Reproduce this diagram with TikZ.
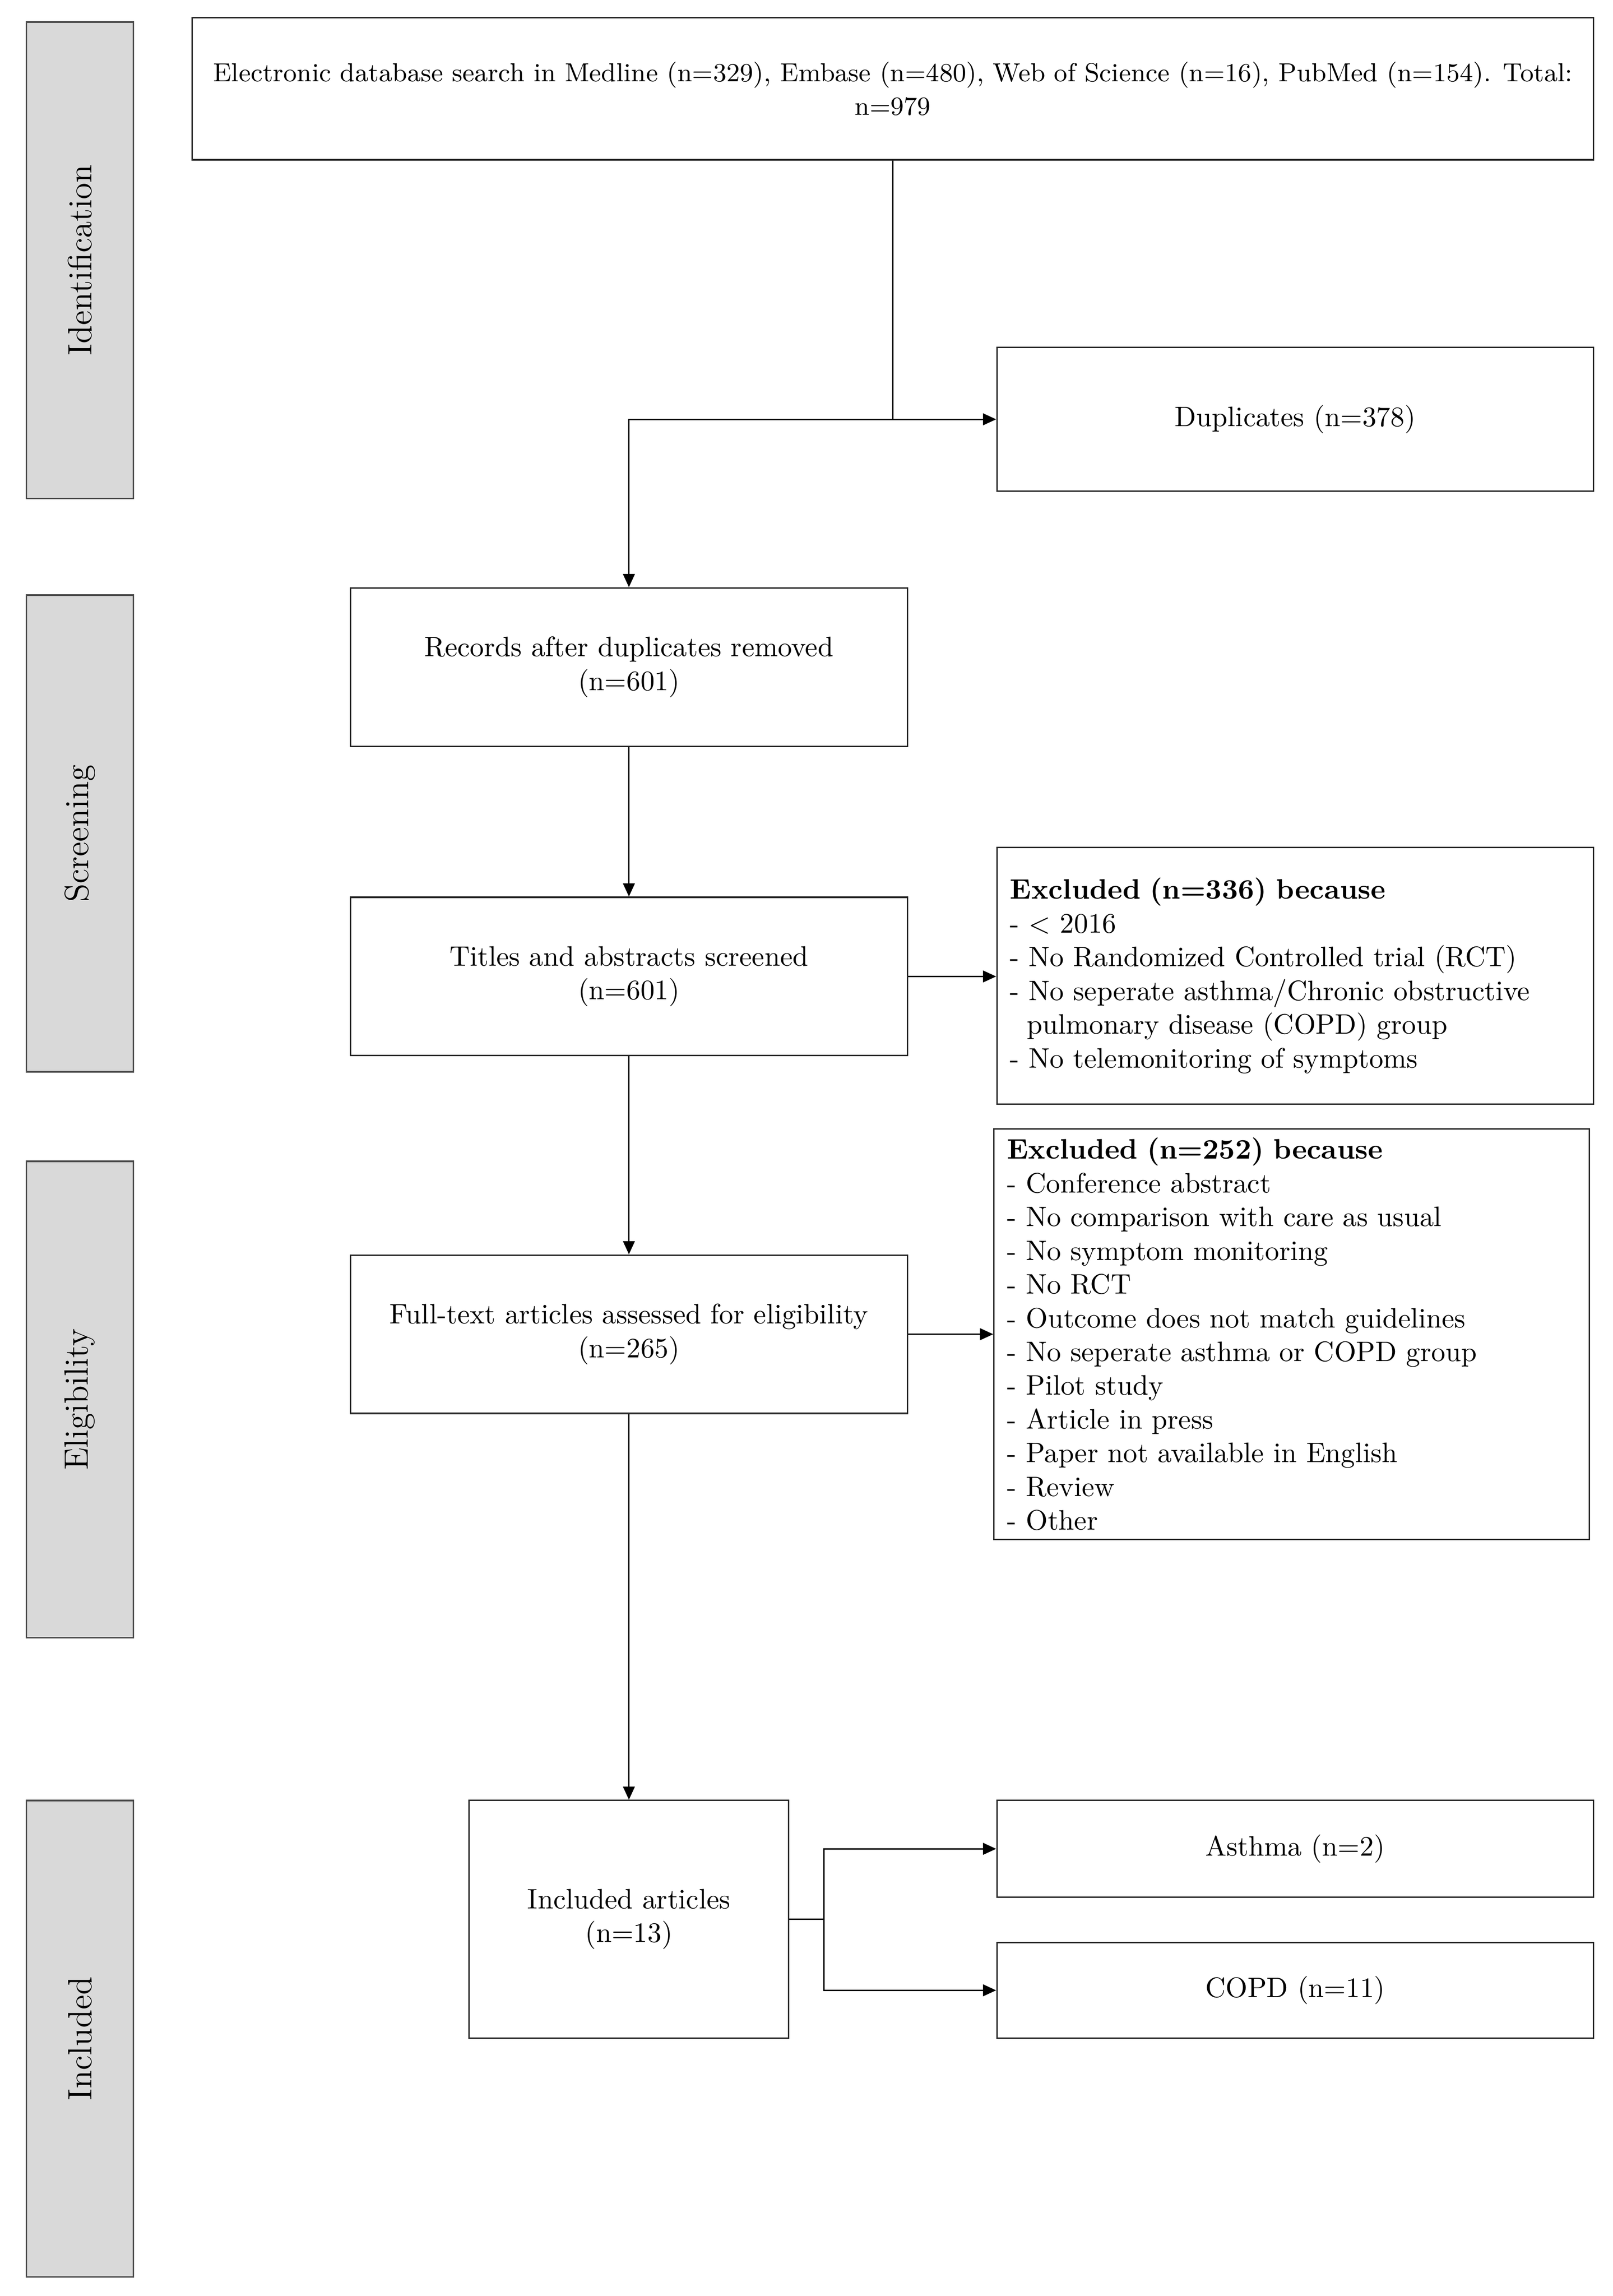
\documentclass[tikz,border=0pt]{standalone}
\usetikzlibrary{arrows.meta,positioning,calc}
\definecolor{sidegrey}{HTML}{D9D9D9}
\begin{document}
\begin{tikzpicture}[x=0.5pt,y=-0.5pt,
  every node/.style={font=\fontsize{9.6}{11.5}\selectfont},
  box/.style={draw=black!85,line width=0.5pt,fill=white,inner sep=0pt,align=center},
  listbox/.style={draw=black!85,line width=0.5pt,fill=white,inner xsep=4.5pt,inner ysep=0pt,align=left},
  sidebar/.style={draw=black!70,line width=0.6pt,fill=sidegrey,minimum width=36.5pt,minimum height=162.5pt,inner sep=0pt},
  sidelabel/.style={rotate=90,font=\fontsize{11.5}{13}\selectfont},
  arr/.style={line width=0.5pt,-{Triangle[length=4.5pt,width=4pt]}},
  ln/.style={line width=0.5pt}]
\useasboundingbox (0,0) rectangle (1100,1566);
% side bars
\node[sidebar] (sId) at (54.5,177.5) {};
\node[sidelabel] (lId) at (sId.center) {Identification};
\node[sidebar] (sSc) at (54.5,568.5) {};
\node[sidelabel] (lSc) at (sSc.center) {Screening};
\node[sidebar] (sEl) at (54.5,954.5) {};
\node[sidelabel] (lEl) at (sEl.center) {Eligibility};
\node[sidebar] (sIn) at (54.5,1390.5) {};
\node[sidelabel] (lIn) at (sIn.center) {Included};
% boxes
\node[box,minimum width=478pt,minimum height=48.5pt,font=\fontsize{8.9}{11.5}\selectfont] (top) at (609,60.5)
  {Electronic database search in Medline (n=329), Embase (n=480), Web of Science (n=16), PubMed (n=154). Total:\\ n=979};
\node[box,minimum width=203.5pt,minimum height=49pt] (dup) at (883.5,286) {Duplicates (n=378)};
\node[box,minimum width=190pt,minimum height=54pt] (rec) at (429,455) {Records after duplicates removed\\(n=601)};
\node[box,minimum width=190pt,minimum height=54pt] (tit) at (429,666) {Titles and abstracts screened\\(n=601)};
\node[listbox,text width=194.5pt,minimum height=87.5pt] (ex1) at (883.5,665.5)
  {\textbf{Excluded (n=336) because}\\
   - {\textless} 2016\\
   - No Randomized Controlled trial (RCT)\\
   - No seperate asthma/Chronic obstructive\\
   \hspace*{0.6em}pulmonary disease (COPD) group\\
   - No telemonitoring of symptoms};
\node[box,minimum width=190pt,minimum height=54pt] (full) at (429,910) {Full-text articles assessed for eligibility\\(n=265)};
\node[listbox,text width=194pt,minimum height=140pt] (ex2) at (881,910)
  {\textbf{Excluded (n=252) because}\\
   - Conference abstract\\
   - No comparison with care as usual\\
   - No symptom monitoring\\
   - No RCT\\
   - Outcome does not match guidelines\\
   - No seperate asthma or COPD group\\
   - Pilot study\\
   - Article in press\\
   - Paper not available in English\\
   - Review\\
   - Other};
\node[box,minimum width=109pt,minimum height=81pt] (inc) at (429,1309) {Included articles\\(n=13)};
\node[box,minimum width=203.5pt,minimum height=33pt] (ast) at (883.5,1261) {Asthma (n=2)};
\node[box,minimum width=203.5pt,minimum height=32.5pt] (copd) at (883.5,1357.5) {COPD (n=11)};
% connectors
\coordinate (j1) at (top.south |- dup.west);
\draw[ln] (top.south) -- (j1);
\draw[arr] (j1) -- (dup.west);
\draw[arr] (j1) -| (rec.north);
\draw[arr] (rec.south) -- (tit.north);
\draw[arr] (tit.east) -- (tit.east -| ex1.west);
\draw[arr] (tit.south) -- (full.north);
\draw[arr] (full.east) -- (full.east -| ex2.west);
\draw[arr] (full.south) -- (inc.north);
\coordinate (j2) at (562,1309);
\draw[ln] (inc.east) -- (j2);
\draw[arr] (j2) |- (ast.west);
\draw[arr] (j2) |- (copd.west);
\end{tikzpicture}
\end{document}
